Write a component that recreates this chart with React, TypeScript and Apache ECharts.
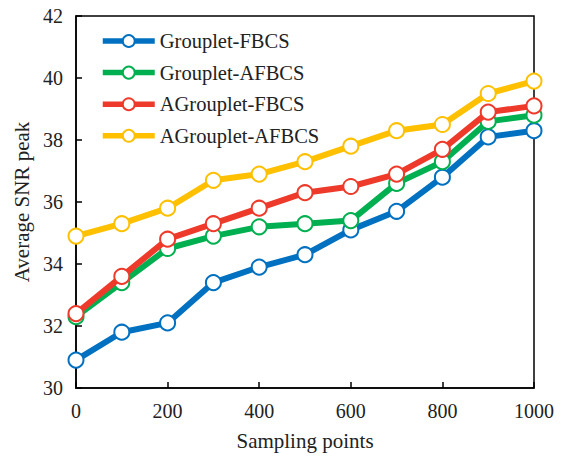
import React, { useEffect, useRef } from "react";
import * as echarts from "echarts";

const samplingPoints = [0, 100, 200, 300, 400, 500, 600, 700, 800, 900, 1000];
const seriesNames = ["Grouplet-FBCS", "Grouplet-AFBCS", "AGrouplet-FBCS", "AGrouplet-AFBCS"];
const groupletFBCS = [30.9, 31.8, 32.1, 33.4, 33.9, 34.3, 35.1, 35.7, 36.8, 38.1, 38.3];
const groupletAFBCS = [32.3, 33.4, 34.5, 34.9, 35.2, 35.3, 35.4, 36.6, 37.3, 38.6, 38.8];
const agroupletFBCS = [32.4, 33.6, 34.8, 35.3, 35.8, 36.3, 36.5, 36.9, 37.7, 38.9, 39.1];
const agroupletAFBCS = [34.9, 35.3, 35.8, 36.7, 36.9, 37.3, 37.8, 38.3, 38.5, 39.5, 39.9];
const colors = ["#0070C0", "#00B050", "#EE3A2A", "#FFC000"];

const FONT = "'Liberation Serif', 'Times New Roman', serif";

export default function App() {
  const ref = useRef<HTMLDivElement>(null);
  useEffect(() => {
    if (!ref.current) return;
    const chart = echarts.init(ref.current, undefined, { renderer: "svg" });
    const all = [groupletFBCS, groupletAFBCS, agroupletFBCS, agroupletAFBCS];
    chart.setOption({
      animation: false,
      textStyle: { fontFamily: FONT },
      grid: {
        left: 76,
        top: 16,
        right: 30,
        bottom: 73,
        show: true,
        borderColor: "#000",
        borderWidth: 1.5,
      },
      legend: {
        orient: "vertical",
        left: 95,
        top: 25,
        itemWidth: 52,
        itemHeight: 15,
        itemGap: 9.6,
        lineStyle: { width: 5.5 },
        textStyle: { fontFamily: FONT, fontSize: 20.5, lineHeight: 22, color: "#222" },
        data: seriesNames,
      },
      xAxis: {
        type: "value",
        min: 0,
        max: 1000,
        interval: 200,
        name: "Sampling points",
        nameLocation: "middle",
        nameGap: 42,
        nameTextStyle: { fontFamily: FONT, fontSize: 21, color: "#222" },
        axisLine: { lineStyle: { color: "#000", width: 1.5 } },
        axisTick: { inside: true, length: 6, lineStyle: { color: "#000", width: 1.5 } },
        axisLabel: {
          fontFamily: FONT,
          fontSize: 20,
          color: "#222",
          margin: 13,
          formatter: (v: number) => String(v),
        },
        splitLine: { show: false },
      },
      yAxis: {
        type: "value",
        min: 30,
        max: 42,
        interval: 2,
        name: "Average SNR peak",
        nameLocation: "middle",
        nameGap: 42,
        nameTextStyle: { fontFamily: FONT, fontSize: 21, color: "#222" },
        axisLine: { show: true, lineStyle: { color: "#000", width: 1.5 } },
        axisTick: { inside: true, length: 6, lineStyle: { color: "#000", width: 1.5 } },
        axisLabel: { fontFamily: FONT, fontSize: 20, color: "#222", margin: 13 },
        splitLine: { show: false },
      },
      series: seriesNames.map((name, i) => ({
        name,
        type: "line",
        data: samplingPoints.map((x, j) => [x, all[i][j]]),
        symbol: "circle",
        symbolSize: 15,
        showAllSymbol: true,
        lineStyle: { color: colors[i], width: 6 },
        itemStyle: { color: "#fff", borderColor: colors[i], borderWidth: 2 },
        z: 2 + i,
      })),
    });
    return () => chart.dispose();
  }, []);
  return <div ref={ref} style={{ width: 564, height: 461, marginLeft: -8, marginTop: -8 }} />;
}
